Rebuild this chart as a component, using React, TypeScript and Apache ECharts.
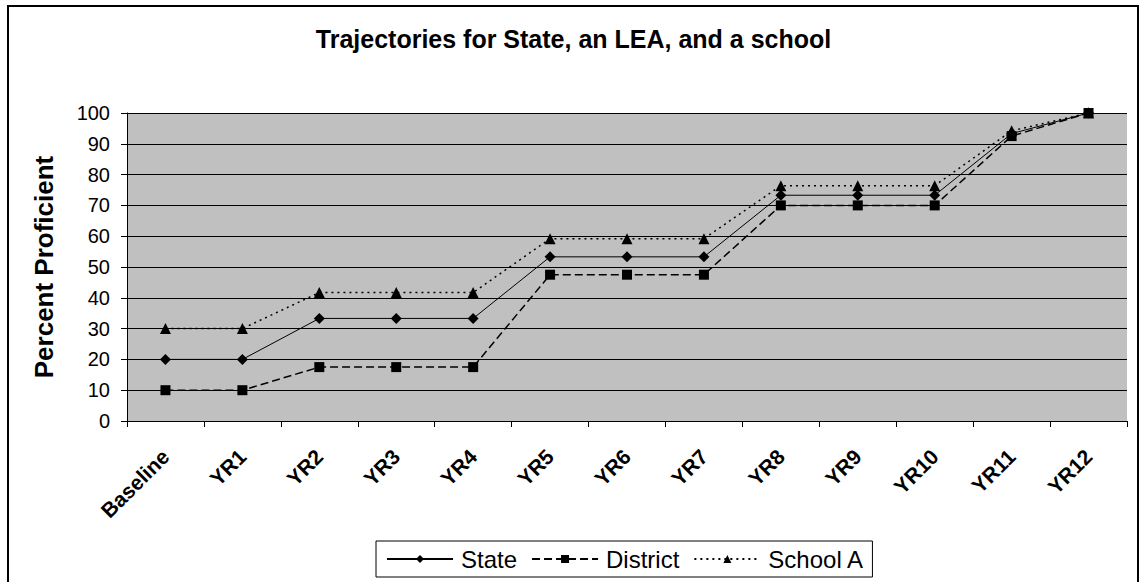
import React, { useEffect, useRef } from "react";
import * as echarts from "echarts";

const categories = ["Baseline", "YR1", "YR2", "YR3", "YR4", "YR5", "YR6", "YR7", "YR8", "YR9", "YR10", "YR11", "YR12"];
const stateValues = [20, 20, 33.3, 33.3, 33.3, 53.3, 53.3, 53.3, 73.3, 73.3, 73.3, 93.3, 100];
const districtValues = [10, 10, 17.5, 17.5, 17.5, 47.5, 47.5, 47.5, 70, 70, 70, 92.5, 100];
const schoolValues = [30, 30, 41.7, 41.7, 41.7, 59.2, 59.2, 59.2, 76.4, 76.4, 76.4, 94.2, 100];

const FONT = "Liberation Sans, Arial, sans-serif";

export default function App() {
  const ref = useRef<HTMLDivElement>(null);
  useEffect(() => {
    if (!ref.current) return;
    const chart = echarts.init(ref.current, null, { renderer: "svg" });
    chart.setOption({
      animation: false,
      backgroundColor: "#ffffff",
      textStyle: { fontFamily: FONT, color: "#000" },
      title: {
        text: "Trajectories for State, an LEA, and a school",
        left: "center",
        top: 21,
        textStyle: { fontFamily: FONT, fontSize: 25, fontWeight: "bold", color: "#000" },
      },
      graphic: [
        {
          type: "rect",
          shape: { x: 8, y: 6, width: 1130, height: 580 },
          style: { fill: "none", stroke: "#000", lineWidth: 2 },
          silent: true,
          z: 100,
        },
      ],
      grid: {
        left: 127,
        right: 20,
        top: 113,
        bottom: 161,
        show: true,
        backgroundColor: "#c0c0c0",
        borderWidth: 0,
      },
      legend: {
        left: 376,
        top: 541,
        padding: [6, 8, 6, 10],
        borderColor: "#000",
        borderWidth: 1,
        backgroundColor: "#fff",
        itemWidth: 66,
        itemHeight: 10,
        itemGap: 14,
        textStyle: { fontFamily: FONT, fontSize: 24, color: "#000", padding: [0, 0, 0, 3] },
        data: ["State", "District", "School A"],
      },
      xAxis: {
        type: "category",
        data: categories,
        boundaryGap: true,
        axisLine: { show: true, lineStyle: { color: "#000", width: 1 } },
        axisTick: { show: true, length: 6, lineStyle: { color: "#000" } },
        axisLabel: {
          rotate: 45,
          margin: 32,
          fontFamily: FONT,
          fontSize: 21,
          fontWeight: "bold",
          color: "#000",
        },
        splitLine: { show: false },
      },
      yAxis: {
        type: "value",
        min: 0,
        max: 100,
        interval: 10,
        name: "Percent Proficient",
        nameLocation: "middle",
        nameGap: 70,
        nameTextStyle: { fontFamily: FONT, fontSize: 26, fontWeight: "bold", color: "#000" },
        axisLine: { show: true, lineStyle: { color: "#000", width: 1 } },
        axisTick: { show: true, length: 6, lineStyle: { color: "#000" } },
        axisLabel: { margin: 17, fontFamily: FONT, fontSize: 20, color: "#000" },
        splitLine: { show: true, lineStyle: { color: "#000", width: 1 } },
      },
      series: [
        {
          name: "State",
          type: "line",
          data: stateValues,
          symbol: "diamond",
          symbolSize: 11,
          itemStyle: { color: "#000" },
          lineStyle: { color: "#000", width: 1, type: "solid" },
          z: 3,
        },
        {
          name: "District",
          type: "line",
          data: districtValues,
          symbol: "rect",
          symbolSize: 10,
          itemStyle: { color: "#000" },
          lineStyle: { color: "#000", width: 1.5, type: [8, 4] },
          z: 2,
        },
        {
          name: "School A",
          type: "line",
          data: schoolValues,
          symbol: "triangle",
          symbolSize: 11,
          itemStyle: { color: "#000" },
          lineStyle: { color: "#000", width: 1.5, type: [2, 4] },
          z: 4,
        },
      ],
    });
    return () => chart.dispose();
  }, []);
  return (
    <div
      ref={ref}
      style={{ position: "fixed", left: 0, top: 0, width: 1147, height: 582 }}
    />
  );
}
